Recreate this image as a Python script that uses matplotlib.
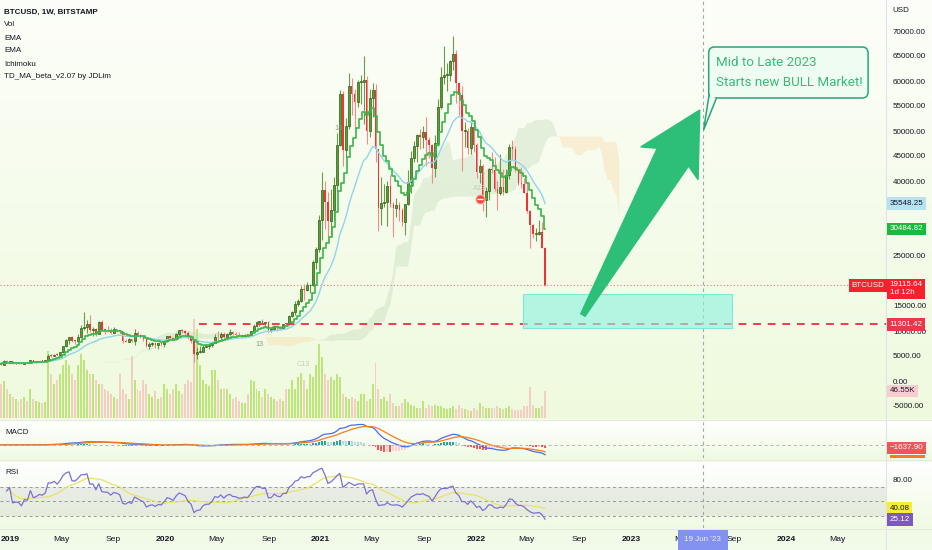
import numpy as np
import pandas as pd
import matplotlib
matplotlib.use('Agg')
import matplotlib.pyplot as plt
import matplotlib.dates as mdates
from matplotlib.patches import Rectangle, Polygon, FancyBboxPatch
from matplotlib.transforms import IdentityTransform

SANS = ['Liberation Sans', 'DejaVu Sans']
FS = 5.8

# weekly BTCUSD (Bitstamp), thousands of USD, weeks starting Monday 2018-12-03
first_open = 4.14
close_k = [3.55, 3.23, 3.95, 3.85, 4.00,
           3.53, 3.56, 3.55, 3.41, 3.65, 3.62, 4.12, 3.81, 3.89, 4.01, 3.98, 4.11,
           5.06, 5.05, 5.30, 5.17, 5.74, 6.98, 8.18, 8.74, 8.00, 7.98, 8.90, 10.70, 10.80,
           11.45, 10.20, 10.35, 9.50, 11.80, 10.30, 10.20, 10.15, 9.60,
           10.40, 10.27, 9.98, 8.06, 7.86, 8.31, 7.96, 9.55, 9.20,
           8.76, 8.48, 7.05, 7.40, 7.52, 7.13, 7.52, 7.39, 8.05,
           8.92, 8.70, 8.37, 9.38, 10.15, 9.93, 9.69, 8.53, 7.95, 5.36, 5.82, 5.88, 6.78,
           7.10, 7.12, 7.70, 8.90, 8.75, 9.38, 8.72, 9.45, 9.75, 9.34, 9.30, 9.01, 9.08,
           9.25, 9.16, 9.93, 11.08, 11.90, 11.92, 11.66, 11.71, 10.25,
           10.34, 11.08, 10.74, 10.66, 11.38, 11.37, 13.03, 13.80,
           15.48, 15.97, 18.40, 18.18, 19.15, 19.28, 23.80, 26.45, 32.19,
           38.2, 35.8, 32.1, 34.3, 39.2, 47.2, 57.5, 46.2, 51.0, 59.0, 57.4, 55.8, 59.8,
           59.9, 60.2, 50.1, 56.6, 58.2, 46.4, 34.7, 35.6, 35.8, 39.1, 35.5, 34.7, 35.3,
           34.25, 31.8, 35.4, 39.9, 44.6, 47.1, 49.3, 48.8, 49.9,
           48.3, 47.3, 42.7, 47.7, 54.9, 60.9, 61.3, 61.3,
           64.0, 65.5, 59.7, 57.2, 50.1, 50.1, 46.7, 50.8, 47.3,
           41.8, 43.1, 36.3, 38.1, 42.4, 42.2, 38.4, 37.7, 38.8, 37.8, 41.3, 46.8, 46.4,
           42.2, 39.7, 39.5, 37.7, 34.1, 31.3, 29.4, 29.5, 29.9, 26.6, 19.11564]
high_k = [4.20, 3.60, 4.20, 4.20, 4.10,
          4.10, 3.75, 3.65, 3.55, 3.70, 3.70, 4.20, 4.20, 3.92, 4.05, 4.10, 4.15,
          5.35, 5.50, 5.35, 5.65, 5.85, 7.10, 8.40, 8.90, 9.10, 8.15, 9.35, 11.20, 13.80,
          12.20, 13.20, 10.90, 10.60, 11.95, 12.30, 10.50, 10.95, 10.60,
          10.90, 10.50, 10.30, 10.00, 8.50, 8.65, 8.40, 10.50, 9.95,
          9.50, 9.10, 8.55, 7.90, 7.85, 7.60, 7.70, 7.60, 8.20,
          8.95, 9.20, 8.75, 9.60, 10.20, 10.50, 10.20, 9.95, 9.20, 8.15, 6.90, 6.95, 7.20,
          7.45, 7.30, 7.80, 9.45, 10.00, 9.90, 9.85, 9.60, 10.40, 9.95, 9.80, 9.80, 9.20,
          9.45, 9.35, 10.00, 11.40, 12.10, 12.10, 12.45, 11.75, 12.10,
          10.60, 11.20, 11.15, 10.95, 11.50, 11.70, 13.30, 14.10,
          15.95, 16.50, 18.95, 19.40, 19.90, 19.40, 24.20, 26.90, 33.30,
          41.9, 40.1, 37.8, 38.5, 40.9, 49.7, 58.3, 58.0, 52.6, 61.7, 60.6, 58.5, 60.2,
          61.3, 64.9, 61.0, 58.5, 59.6, 59.5, 46.5, 40.9, 39.4, 40.0, 41.3, 35.8, 36.6,
          35.9, 34.6, 35.5, 42.3, 46.1, 48.1, 49.4, 50.5, 51.0,
          52.9, 48.8, 47.4, 49.2, 56.5, 62.9, 67.0, 63.7,
          64.3, 69.0, 66.3, 59.3, 59.0, 51.9, 50.6, 51.9, 52.1,
          47.6, 44.5, 43.5, 38.9, 42.7, 45.8, 44.8, 40.0, 45.4, 42.4, 42.4, 47.5, 48.2,
          47.0, 42.4, 42.9, 40.7, 39.9, 34.2, 31.5, 30.6, 32.3, 31.8, 26.9]
low_k = [3.50, 3.13, 3.25, 3.55, 3.65,
         3.50, 3.50, 3.45, 3.36, 3.37, 3.55, 3.60, 3.70, 3.70, 3.80, 3.90, 3.95,
         4.10, 4.90, 5.00, 5.10, 5.15, 5.60, 6.80, 7.50, 7.90, 7.45, 7.70, 8.90, 10.30,
         9.70, 9.90, 9.10, 9.10, 9.40, 10.20, 9.50, 9.85, 9.35,
         9.60, 9.85, 9.60, 7.70, 7.75, 7.80, 7.90, 7.30, 9.00,
         8.70, 8.00, 6.80, 6.50, 7.10, 6.55, 6.45, 7.00, 6.90,
         7.80, 8.50, 8.20, 8.30, 9.10, 9.65, 9.30, 8.40, 7.65, 3.85, 4.45, 5.70, 5.87,
         6.75, 6.50, 6.80, 7.60, 8.10, 8.20, 8.65, 8.60, 9.30, 9.15, 9.20, 8.85, 8.90,
         9.05, 9.05, 9.10, 9.90, 10.90, 11.10, 11.40, 11.10, 9.85,
         9.90, 10.20, 10.10, 10.40, 10.50, 11.20, 11.30, 12.80,
         13.20, 15.00, 15.80, 16.30, 18.00, 17.60, 19.00, 22.40, 25.90,
         28.2, 30.4, 28.8, 29.2, 32.3, 37.9, 47.1, 43.0, 44.9, 50.5, 53.3, 50.4, 54.8,
         55.5, 51.5, 47.5, 48.8, 52.9, 43.8, 30.0, 31.2, 34.9, 31.0, 34.8, 28.8, 32.7,
         32.1, 31.0, 29.3, 35.2, 37.6, 43.8, 43.9, 46.4, 46.6,
         43.0, 44.7, 39.6, 40.8, 47.1, 54.4, 59.5, 58.0,
         60.0, 62.3, 55.6, 53.3, 42.0, 46.8, 45.5, 45.5, 45.9,
         40.6, 39.7, 34.0, 32.9, 36.3, 41.7, 38.0, 34.3, 37.2, 37.2, 37.6, 40.5, 44.2,
         41.9, 39.2, 38.6, 37.6, 33.7, 26.7, 28.7, 28.0, 29.3, 26.6, 19.0]
# weekly volume, thousands of BTC
vol_k = [66, 58, 63, 50, 42,
         37, 33, 30, 33, 37, 30, 50, 33, 30, 27, 25, 27,
         116, 75, 58, 66, 75, 91, 100, 91, 75, 66, 91, 111, 100,
         83, 75, 75, 66, 58, 58, 50, 46, 42,
         37, 33, 75, 50, 42, 33, 106, 66, 50,
         46, 66, 58, 42, 37, 46, 33, 37, 58,
         50, 42, 50, 58, 46, 42, 58, 66, 62, 171, 153, 91, 66,
         58, 55, 83, 83, 66, 50, 50, 50, 42, 33, 37, 30, 25,
         25, 42, 66, 63, 50, 46, 37, 50, 42,
         37, 33, 30, 33, 30, 50, 50, 66,
         50, 70, 78, 66, 50, 75, 70, 91, 128,
         105, 75, 66, 70, 66, 75, 70, 42, 37, 33, 37, 33, 30,
         42, 42, 30, 33, 58, 95, 50, 33, 37, 30, 42, 25, 20,
         20, 25, 33, 28, 22, 20, 17, 17, 30,
         17, 23, 20, 22, 20, 20, 17, 15,
         18, 20, 15, 23, 17, 15, 13, 12, 17,
         13, 25, 20, 17, 17, 17, 17, 20, 18, 15, 17, 20, 15,
         13, 13, 13, 20, 20, 53, 23, 17, 17, 20, 46.55]

tick_dates = ['2019-01-01', '2019-05-01', '2019-09-01', '2020-01-01', '2020-05-01', '2020-09-01',
              '2021-01-01', '2021-05-01', '2021-09-01', '2022-01-01', '2022-05-01', '2022-09-01',
              '2023-01-01', '2023-05-01', '2023-09-01', '2024-01-01', '2024-05-01']
tick_labels = ['2019', 'May', 'Sep', '2020', 'May', 'Sep', '2021', 'May', 'Sep',
               '2022', 'May', 'Sep', '2023', 'May', 'Sep', '2024', 'May']
price_ticks = [-5000, 0, 5000, 10000, 15000, 20000, 25000, 40000, 45000, 50000,
               55000, 60000, 65000, 70000]

# TD sequential style counters seen on the chart: (date, price, text)
td_marks = [('2021-02-12', 50500, '13'), ('2020-08-10', 7200, '13'),
            ('2022-01-10', 38500, 'A13'), ('2020-11-20', 3200, 'C13')]

support_level = 11301.42
target_box = ('2022-04-22', '2023-08-26', 10600, 17400)
arrow_tail = ('2022-09-10', 13200)
arrow_tip = ('2023-06-12', 54200)
cursor_date = '2023-06-19'

weeks = pd.date_range('2018-12-03', periods=len(close_k), freq='7D')
xd = mdates.date2num(weeks)
close = np.array(close_k) * 1000
high = np.array(high_k) * 1000
low = np.array(low_k) * 1000
open_ = np.r_[first_open * 1000, close[:-1]]
vol = np.array(vol_k, dtype=float)
up = close >= open_

# indicators
s = pd.Series(close)
ema10 = s.ewm(span=10, adjust=False).mean()
ema21 = s.ewm(span=21, adjust=False).mean()
macd = s.ewm(span=12, adjust=False).mean() - s.ewm(span=26, adjust=False).mean()
signal = macd.ewm(span=9, adjust=False).mean()
hist = macd - signal
delta = s.diff()
gain = delta.clip(lower=0).ewm(alpha=1/14, min_periods=3).mean()
loss = (-delta.clip(upper=0)).ewm(alpha=1/14, min_periods=3).mean()
rsi = 100 - 100 / (1 + gain / loss)
rsi_ma = rsi.rolling(14, min_periods=1).mean()
hi, lo = pd.Series(high), pd.Series(low)
tenkan = (hi.rolling(9, min_periods=1).max() + lo.rolling(9, min_periods=1).min()) / 2
kijun = (hi.rolling(26, min_periods=1).max() + lo.rolling(26, min_periods=1).min()) / 2
span_a = ((tenkan + kijun) / 2).values
span_b = ((hi.rolling(52, min_periods=1).max() + lo.rolling(52, min_periods=1).min()) / 2).values
cloud_x = mdates.date2num(weeks + pd.Timedelta(weeks=25))

# figure / background
W, H = 932, 550
fig = plt.figure(figsize=(W / 100, H / 100), dpi=100)

def rect(x0, y0, x1, y1):
    return [x0 / W, 1 - y1 / H, (x1 - x0) / W, (y1 - y0) / H]

rows = np.ones((H, 3))
def ramp(y0, y1, c0, c1):
    t = np.linspace(0, 1, y1 - y0)[:, None]
    rows[y0:y1] = np.array(c0) * (1 - t) + np.array(c1) * t
ramp(0, 419, (0.990, 0.996, 0.975), (0.935, 0.980, 0.870))
ramp(419, 422, (0.975, 0.988, 0.955), (0.985, 0.992, 0.97))
ramp(422, 458, (1.0, 1.0, 1.0), (0.94, 0.98, 0.89))
ramp(458, 462, (0.94, 0.98, 0.89), (0.95, 0.985, 0.92))
ramp(462, 528, (1.0, 1.0, 1.0), (0.94, 0.98, 0.89))
ramp(528, 550, (0.945, 0.982, 0.905), (0.95, 0.985, 0.915))
bg = fig.add_axes([0, 0, 1, 1], zorder=-10)
bg.imshow(rows[:, None, :], aspect='auto', extent=[0, 1, 0, 1])
bg.set_xlim(0, 1); bg.set_ylim(0, 1)
bg.axis('off')
bg.axvline(886 / W, color='#e0e3eb', lw=0.8)
for yy in (420, 460, 529):
    bg.axhline(1 - yy / H, color='#e4ead8', lw=0.8)

ax = fig.add_axes(rect(0, 0, 886, 418))
axm = fig.add_axes(rect(0, 422, 886, 458), sharex=ax)
axr = fig.add_axes(rect(0, 462, 886, 528), sharex=ax)
for a in (ax, axm, axr):
    a.set_facecolor('none')
    for sp in a.spines.values():
        sp.set_visible(False)
    a.tick_params(axis='both', length=0)
x_left = mdates.date2num(pd.Timestamp('2019-01-01')) - 10 / 0.425
ax.set_xlim(x_left, x_left + 886 / 0.425)
ax.set_ylim(-7400, 76200)

# volume
axv = ax.twinx()
axv.set_zorder(0.5)
ax.set_zorder(1)
axv.set_facecolor('none')
for sp in axv.spines.values():
    sp.set_visible(False)
axv.bar(xd, vol, width=4.6, color=np.where(up, '#bde67a', '#f2cfc2'), lw=0)
axv.set_ylim(0, 720)
axv.set_yticks([])

# ichimoku cloud
ax.fill_between(cloud_x, span_a, span_b, where=span_a >= span_b, interpolate=True,
                color='#b9d4b0', alpha=0.32, lw=0, zorder=1)
ax.fill_between(cloud_x, span_a, span_b, where=span_a < span_b, interpolate=True,
                color='#f9d9a6', alpha=0.38, lw=0, zorder=1)

# candles
ax.vlines(xd[up], low[up], high[up], color='#6b9a4a', lw=0.8, zorder=3)
ax.vlines(xd[~up], low[~up], high[~up], color='#f08c8c', lw=0.8, zorder=3)
body_lo = np.minimum(open_, close)
body_h = np.maximum(np.abs(close - open_), 150)
ax.bar(xd[up], body_h[up], bottom=body_lo[up], width=4.6, color='#5aa02c',
       edgecolor='#2c5e1a', lw=0.5, zorder=4)
ax.bar(xd[~up], body_h[~up], bottom=body_lo[~up], width=3.6, color='#ee3434', lw=0, zorder=4)

# moving averages
ax.plot(xd, ema21, color='#92d4ea', lw=1.0, zorder=5)
ax.plot(xd, ema10, color='#3cb54c', lw=1.2, drawstyle='steps-mid', zorder=5)

# TD counters and signal dot
for dt, pr, txt in td_marks:
    ax.text(mdates.date2num(pd.Timestamp(dt)), pr, txt, fontsize=5.2, family=SANS,
            color='#8a9a88' if txt == '13' else '#c4cfc0', ha='center', va='center', zorder=6)
ax.plot(mdates.date2num(pd.Timestamp('2022-01-10')), 36400, 'o', ms=6.5, mfc='#f24a3a',
        mec='#f7b0a8', mew=0.8, zorder=7)
ax.plot(mdates.date2num(pd.Timestamp('2022-01-10')), 36400, '_', ms=4, mec='white', mew=1.0,
        zorder=7.5)

# price / support lines
ax.axhline(close[-1], color='#f23645', lw=0.8, ls=(0, (1, 2)), alpha=0.7, zorder=2)
ax.hlines(support_level, mdates.date2num(pd.Timestamp('2020-03-20')), x_left + 886 / 0.425,
          color='#ef3b4f', lw=1.4, ls=(0, (4, 3.5)), zorder=6)

# target zone
bx0, bx1 = mdates.date2num(pd.Timestamp(target_box[0])), mdates.date2num(pd.Timestamp(target_box[1]))
ax.add_patch(Rectangle((bx0, target_box[2]), bx1 - bx0, target_box[3] - target_box[2],
                       fc=(0.55, 0.95, 0.88, 0.62), ec='#7fe6e2', lw=0.8, zorder=7))

# vertical cursor line
for a in (ax, axm, axr):
    a.axvline(mdates.date2num(pd.Timestamp(cursor_date)), color='#a3a6ae', lw=0.8,
              ls=(0, (3, 3)), zorder=6)

# arrow
tr = ax.transData
p0 = tr.transform((mdates.date2num(pd.Timestamp(arrow_tail[0])), arrow_tail[1]))
p1 = tr.transform((mdates.date2num(pd.Timestamp(arrow_tip[0])), arrow_tip[1]))
d = p1 - p0
L = np.hypot(*d)
u = d / L
n = np.array([-u[1], u[0]])
shape = [(0, 2.5), (0.77, 18), (0.74, 33), (1.0, 0), (0.74, -33), (0.77, -18), (0, -2.5)]
pts = [p0 + a_ * L * u + b_ * n for a_, b_ in shape]
ax.add_patch(Polygon(pts, closed=True, transform=IdentityTransform(), fc='#2dbf78',
                     ec='#2dbf78', lw=1, zorder=8))

# callout
c0 = tr.transform((mdates.date2num(pd.Timestamp('2023-07-03')), 56600))
c1 = tr.transform((mdates.date2num(pd.Timestamp('2024-07-12')), 66800))
ctip = tr.transform((mdates.date2num(pd.Timestamp('2023-06-21')), 50200))
ax.add_patch(Polygon([c0 + (0.5, 4), ctip, c0 + (8, 0.5)], closed=True, transform=IdentityTransform(),
                     fc='#effcf2', ec='#2aa37b', lw=1.1, zorder=9))
ax.add_patch(FancyBboxPatch(c0, c1[0] - c0[0], c1[1] - c0[1],
                            boxstyle='round,pad=0,rounding_size=6', transform=IdentityTransform(),
                            fc='#effcf2', ec='#2aa37b', lw=1.1, zorder=9))
ax.add_patch(Polygon([c0 + (1.6, 5), c0 + (1.6, -0.6), c0 + (7, -0.6)], closed=True,
                     transform=IdentityTransform(), fc='#effcf2', ec='none', zorder=9.5))
ax.text(c0[0] + 7, (c0[1] + c1[1]) / 2, 'Mid to Late 2023\nStarts new BULL Market!',
        transform=IdentityTransform(), ha='left', va='center', fontsize=9.6,
        family=['Roboto', 'DejaVu Sans'], color='#3cb878', linespacing=1.6, zorder=10)

# right price axis
ax.yaxis.tick_right()
ax.set_yticks(price_ticks)
ax.set_yticklabels([f'{v:.2f}' for v in price_ticks])
ax.tick_params(axis='y', pad=5, labelsize=FS, labelcolor='#131722', labelfontfamily=SANS[0])
ax.tick_params(axis='x', labelbottom=False)
fig.text(892 / W, 1 - 10 / H, 'USD', fontsize=FS, family=SANS, color='#131722', va='center')

def tag(a, val, txt, fc, fg='white', x=1.004):
    a.annotate(txt, xy=(x, val), xycoords=('axes fraction', 'data'), ha='left', va='center',
               fontsize=FS, family=SANS, color=fg, linespacing=1.2,
               bbox=dict(boxstyle='square,pad=0.35', fc=fc, ec='none'),
               annotation_clip=False, zorder=20)

tag(ax, ema21.iloc[-1], '35548.25', '#b7e2f2', '#131722')
tag(ax, ema10.iloc[-1], '30484.82', '#1eb83c')
tag(ax, close[-1] - 700, '19115.64\n1d 12h', '#f5222d')
tag(ax, support_level, '11301.42', '#e8394c')
ax.annotate('BTCUSD', xy=(0.998, close[-1]), xycoords=('axes fraction', 'data'), ha='right',
            va='center', fontsize=FS, family=SANS, color='white',
            bbox=dict(boxstyle='square,pad=0.35', fc='#f5222d', ec='none'), zorder=20)
tag(axv, vol[-1], '46.55K', '#f8cdd1', '#131722')

# MACD pane
hist_prev = hist.shift(1).fillna(0)
hcol = np.where(hist >= 0, np.where(hist >= hist_prev, '#26a69a', '#b2dfdb'),
                np.where(hist < hist_prev, '#ff5252', '#ffcdd2'))
axm.bar(xd, hist, width=4.6, color=hcol, lw=0)
axm.plot(xd, macd, color='#4a6ee8', lw=0.9)
axm.plot(xd, signal, color='#f57c20', lw=0.9)
axm.axhline(0, color='#b2b5be', lw=0.7, ls=(0, (3, 3)))
T = macd.max() * 1.12
axm.set_ylim(-T * 13 / 23, T)
axm.set_yticks([])
axm.tick_params(axis='x', labelbottom=False)
axm.add_patch(Rectangle((1.004, 0), 0.04, 0.07, transform=axm.transAxes, fc='#ff7a1a', ec='none',
                        clip_on=False, zorder=19))
tag(axm, hist.iloc[-1], '\u22121637.90', '#f2545b')
fig.text(5 / W, 1 - 433 / H, 'MACD', fontsize=FS, family=SANS, color='#131722', va='center')

# RSI pane
axr.axhspan(30, 70, color='#9e9e9e', alpha=0.16, lw=0)
for lv in (70, 50, 30):
    axr.axhline(lv, color='#9598a1', lw=0.7, ls=(0, (3, 3)))
axr.plot(xd, rsi_ma, color='#e8e26a', lw=0.9)
axr.plot(xd, rsi, color='#7e6fd6', lw=0.9)
axr.set_ylim(12.8, 103.8)
axr.yaxis.tick_right()
axr.set_yticks([80])
axr.set_yticklabels(['80.00'])
axr.tick_params(axis='y', pad=5, labelsize=FS, labelcolor='#131722', labelfontfamily=SANS[0])
tag(axr, rsi_ma.iloc[-1], '40.08', '#f7ec3b', '#131722')
tag(axr, rsi.iloc[-1], '25.12', '#7e57c2')
fig.text(5 / W, 1 - 473 / H, 'RSI', fontsize=FS, family=SANS, color='#131722', va='center')

axr.set_xticks(mdates.date2num(pd.to_datetime(tick_dates)))
axr.set_xticklabels(tick_labels)
axr.tick_params(axis='x', pad=6, labelsize=6.1, labelcolor='#131722', labelfontfamily=SANS[0])
for lab in axr.get_xticklabels():
    if lab.get_text().isdigit():
        lab.set_fontweight('bold')
axr.annotate("19 Jun '23", xy=(mdates.date2num(pd.Timestamp(cursor_date)), -0.18),
             xycoords=('data', 'axes fraction'), ha='center', va='center', fontsize=FS,
             family=SANS, color='#eef0ff',
             bbox=dict(boxstyle='square,pad=0.8', fc='#8391ef', ec='none'),
             annotation_clip=False, zorder=20)

# legend lines
legend = ['BTCUSD, 1W, BITSTAMP', 'Vol', 'EMA', 'EMA', 'Ichimoku', 'TD_MA_beta_v2.07 by JDLim']
for i, txt in enumerate(legend):
    fig.text(4 / W, 1 - (12 + 13 * i) / H, txt, fontsize=FS, family=SANS, color='#131722',
             va='center', fontweight='bold' if i == 0 else 'normal')

fig.savefig('out.png', dpi=100)
